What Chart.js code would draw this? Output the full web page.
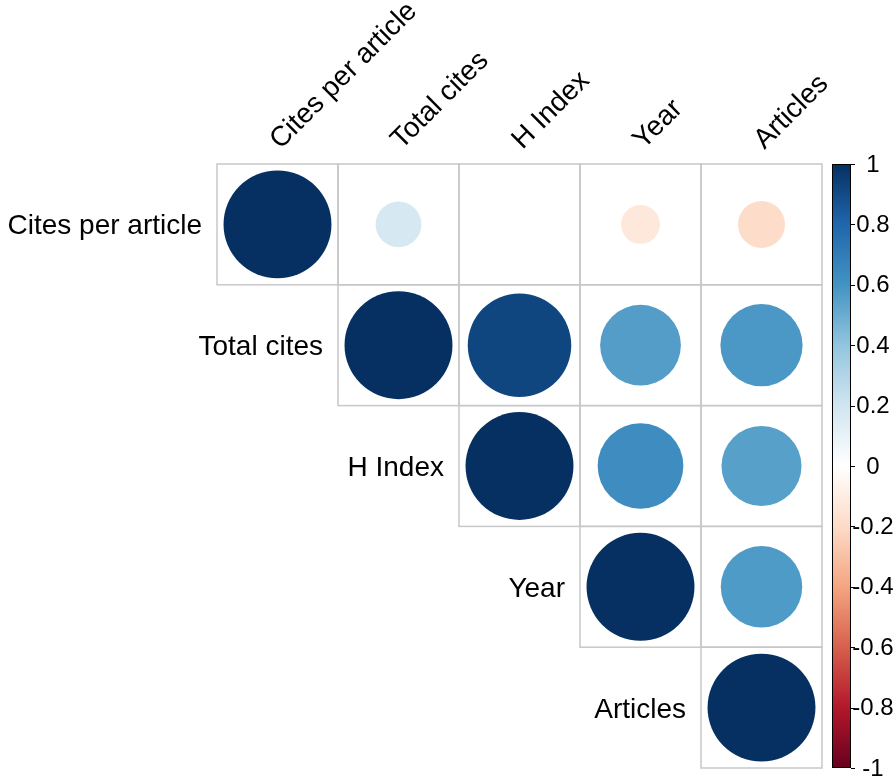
<!DOCTYPE html>
<html>
<head>
<meta charset="utf-8">
<script src="https://cdn.jsdelivr.net/npm/chart.js@4/dist/chart.umd.min.js"></script>
<style>
  html, body { margin: 0; padding: 0; background: #ffffff; }
  #wrap { width: 896px; height: 783px; position: relative; }
</style>
</head>
<body>
<div id="wrap"><canvas id="c" width="896" height="783"></canvas></div>
<script>
// ---- data ----
const variables = ["Cites per article", "Total cites", "H Index", "Year", "Articles"];
const rowCitesPerArticle = [1.00, 0.18, 0.00, -0.13, -0.19];
const rowTotalCites      = [null, 1.00, 0.92, 0.56, 0.58];
const rowHIndex          = [null, null, 1.00, 0.63, 0.55];
const rowYear            = [null, null, null, 1.00, 0.57];
const rowArticles        = [null, null, null, null, 1.00];
const colorbarTicks  = [1, 0.8, 0.6, 0.4, 0.2, 0, -0.2, -0.4, -0.6, -0.8, -1];
const colorbarLabels = ["1", "0.8", "0.6", "0.4", "0.2", "0", "-0.2", "-0.4", "-0.6", "-0.8", "-1"];

const rows = [rowCitesPerArticle, rowTotalCites, rowHIndex, rowYear, rowArticles];

// ---- layout ----
const PAD = { left: 217, right: 74, top: 164, bottom: 15 };

// ---- colour palette (RdBu, corrplot COL2) ----
const RDBU = ["#67001F","#B2182B","#D6604D","#F4A582","#FDDBC7","#FFFFFF","#D1E5F0","#92C5DE","#4393C3","#2166AC","#053061"];
function hex2rgb(h){ return [parseInt(h.substr(1,2),16), parseInt(h.substr(3,2),16), parseInt(h.substr(5,2),16)]; }
function colorFor(v){
  let t = (v + 1) / 2 * (RDBU.length - 1);
  let i = Math.max(0, Math.min(Math.floor(t), RDBU.length - 2));
  let f = t - i;
  const a = hex2rgb(RDBU[i]), b = hex2rgb(RDBU[i+1]);
  const c = a.map((x, k) => Math.round(x + (b[k] - x) * f));
  return `rgb(${c[0]},${c[1]},${c[2]})`;
}

// ---- build dataset ----
const points = [];
rows.forEach((r, i) => r.forEach((v, j) => {
  if (v !== null) points.push({ x: j + 1, y: i + 1, v: v });
}));

const FONT = '"Liberation Sans", Arial, sans-serif';

const cellGrid = {
  id: 'cellGrid',
  beforeDatasetsDraw(chart) {
    const ctx = chart.ctx, xs = chart.scales.x, ys = chart.scales.y;
    ctx.save();
    ctx.strokeStyle = '#c8c8c8';
    ctx.lineWidth = 1.5;
    rows.forEach((r, i) => r.forEach((v, j) => {
      if (v === null) return;
      const x0 = xs.getPixelForValue(j + 0.5), x1 = xs.getPixelForValue(j + 1.5);
      const y0 = ys.getPixelForValue(i + 0.5), y1 = ys.getPixelForValue(i + 1.5);
      ctx.strokeRect(x0, y0, x1 - x0, y1 - y0);
    }));
    ctx.restore();
  }
};

const labelsAndLegend = {
  id: 'labelsAndLegend',
  afterDraw(chart) {
    const ctx = chart.ctx, xs = chart.scales.x, ys = chart.scales.y, cb = chart.scales.cb;
    const area = chart.chartArea;
    ctx.save();
    ctx.fillStyle = '#000';
    ctx.font = '28px ' + FONT;
    variables.forEach((name, i) => {
      const x = xs.getPixelForValue(i + 0.5) - 15;
      const y = ys.getPixelForValue(i + 1) + 10;
      ctx.textAlign = 'right';
      ctx.textBaseline = 'alphabetic';
      ctx.fillText(name, x, y);
    });
    variables.forEach((name, j) => {
      const x = xs.getPixelForValue(j + 1) + 3;
      const y = area.top - 14;
      ctx.save();
      ctx.translate(x, y);
      ctx.rotate(-Math.PI / 4);
      ctx.textAlign = 'left';
      ctx.textBaseline = 'alphabetic';
      ctx.fillText(name, 0, 0);
      ctx.restore();
    });
    const bx = area.right + 10, bw = 19;
    const top = cb.getPixelForValue(1), bot = cb.getPixelForValue(-1);
    const g = ctx.createLinearGradient(0, bot, 0, top);
    RDBU.forEach((c, k) => g.addColorStop(k / (RDBU.length - 1), c));
    ctx.fillStyle = g;
    ctx.fillRect(bx, top, bw, bot - top);
    ctx.strokeStyle = '#000';
    ctx.lineWidth = 1;
    ctx.strokeRect(bx + 0.5, top + 0.5, bw - 1, bot - top - 1);
    ctx.font = '24px ' + FONT;
    ctx.fillStyle = '#000';
    ctx.textAlign = 'center';
    ctx.textBaseline = 'middle';
    colorbarTicks.forEach((t, k) => {
      const y = cb.getPixelForValue(t);
      ctx.beginPath();
      ctx.moveTo(bx + bw, Math.round(y) + 0.5);
      ctx.lineTo(bx + bw + 4, Math.round(y) + 0.5);
      ctx.stroke();
      ctx.fillText(colorbarLabels[k], bx + bw + 22, y + 1);
    });
    ctx.restore();
  }
};

// circle radius: area proportional to |r|, nearly full cell for |r| = 1
function cellRadius(chart, v) {
  const cell = (chart.width - PAD.left - PAD.right) / variables.length;
  const r = Math.sqrt(Math.abs(v)) * cell * 0.446;
  return isFinite(r) ? r : 0;
}

new Chart(document.getElementById('c'), {
  type: 'bubble',
  data: {
    datasets: [{
      data: points,
      clip: false,
      backgroundColor: ctx => (ctx.raw && ctx.raw.v !== undefined) ? colorFor(ctx.raw.v) : 'rgba(0,0,0,0)',
      borderWidth: 0,
      radius: ctx => (ctx.raw && ctx.raw.v !== undefined) ? cellRadius(ctx.chart, ctx.raw.v) : 0,
      hoverRadius: 0
    }]
  },
  options: {
    responsive: false,
    animation: false,
    events: [],
    layout: { padding: PAD, autoPadding: false },
    scales: {
      x: { type: 'linear', min: 0.5, max: 5.5, display: false },
      y: { type: 'linear', min: 0.5, max: 5.5, reverse: true, display: false },
      cb: { type: 'linear', position: 'right', min: -1, max: 1, display: false }
    },
    plugins: { legend: { display: false }, tooltip: { enabled: false } }
  },
  plugins: [cellGrid, labelsAndLegend]
});
</script>
</body>
</html>
